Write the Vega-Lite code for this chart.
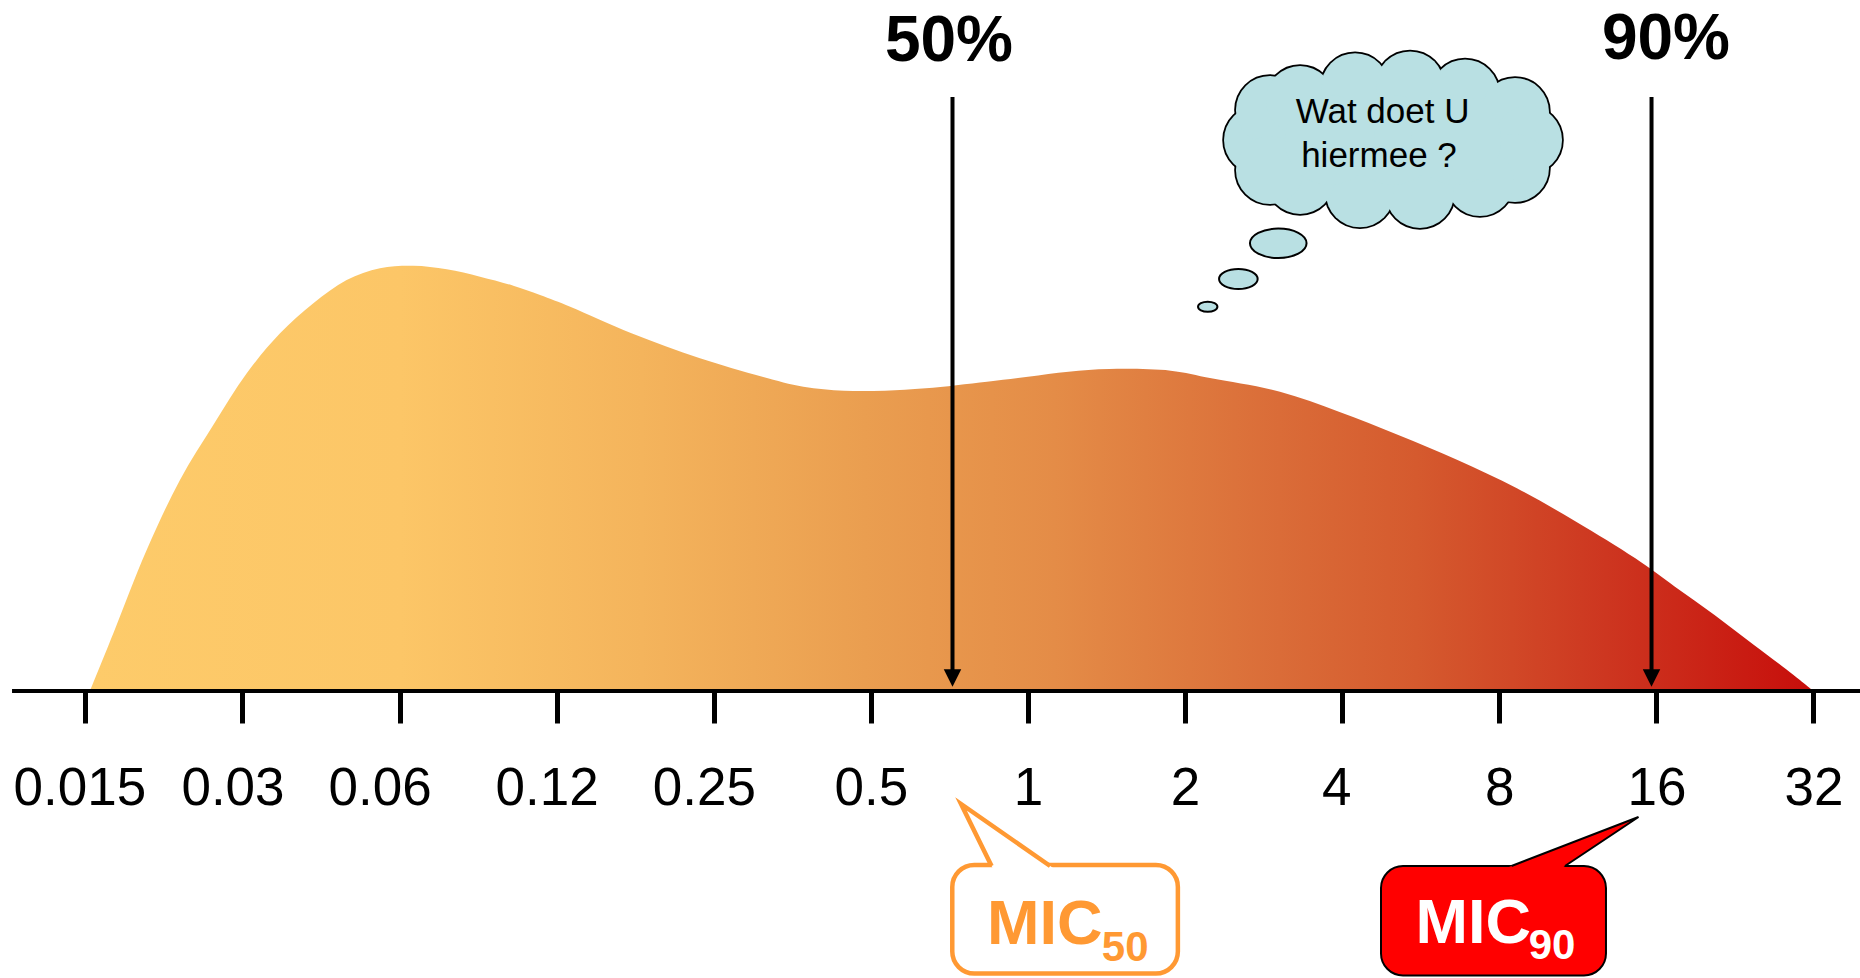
{
  "$schema": "https://vega.github.io/schema/vega-lite/v6.json",
  "width": 1860,
  "height": 691,
  "autosize": {"type": "none"},
  "padding": {"left": 0, "top": 0, "right": 0, "bottom": 287},
  "background": "white",
  "config": {"view": {"stroke": null}, "legend": {"disable": true}},
  "datasets": {
    "curve": [
      {"log2MIC": -5.971, "h": 0},
      {"log2MIC": -5.822, "h": 57.7},
      {"log2MIC": -5.610, "h": 141},
      {"log2MIC": -5.398, "h": 211},
      {"log2MIC": -5.186, "h": 266},
      {"log2MIC": -4.973, "h": 317.7},
      {"log2MIC": -4.761, "h": 357.7},
      {"log2MIC": -4.549, "h": 387.7},
      {"log2MIC": -4.337, "h": 411},
      {"log2MIC": -4.125, "h": 422.7},
      {"log2MIC": -3.913, "h": 425.3},
      {"log2MIC": -3.700, "h": 421.7},
      {"log2MIC": -3.488, "h": 414.3},
      {"log2MIC": -3.276, "h": 405.3},
      {"log2MIC": -3.106, "h": 396},
      {"log2MIC": -2.914, "h": 384.3},
      {"log2MIC": -2.524, "h": 357.7},
      {"log2MIC": -2.088, "h": 332.7},
      {"log2MIC": -1.691, "h": 314.3},
      {"log2MIC": -1.430, "h": 304.3},
      {"log2MIC": -1.171, "h": 300.3},
      {"log2MIC": -0.911, "h": 300.3},
      {"log2MIC": -0.651, "h": 302.7},
      {"log2MIC": -0.261, "h": 309.3},
      {"log2MIC": 0.0, "h": 314.3},
      {"log2MIC": 0.258, "h": 319.3},
      {"log2MIC": 0.518, "h": 322},
      {"log2MIC": 0.908, "h": 320.3},
      {"log2MIC": 1.167, "h": 312.7},
      {"log2MIC": 1.604, "h": 299.3},
      {"log2MIC": 1.979, "h": 279.3},
      {"log2MIC": 2.357, "h": 256},
      {"log2MIC": 2.734, "h": 231},
      {"log2MIC": 3.112, "h": 202.7},
      {"log2MIC": 3.489, "h": 169.3},
      {"log2MIC": 3.866, "h": 132.7},
      {"log2MIC": 4.118, "h": 104.3},
      {"log2MIC": 4.370, "h": 76},
      {"log2MIC": 4.621, "h": 46},
      {"log2MIC": 4.873, "h": 16},
      {"log2MIC": 4.999, "h": 0}
    ],
    "axisline": [{"log2MIC": -6.467, "log2MIC_end": 5.296, "h": 0}],
    "arrows": [
      {"label": "50%", "log2MIC": -0.4806, "h": 594, "h_end": 16, "h_tip": 13},
      {"label": "90%", "log2MIC": 3.969, "h": 594, "h_end": 16, "h_tip": 13}
    ],
    "percent_labels": [
      {"label": "50%", "log2MIC": -0.503, "h": 630},
      {"label": "90%", "log2MIC": 4.061, "h": 632}
    ],
    "bubbles": [
      {"bubble": "large", "log2MIC": 1.593, "h": 447.7},
      {"bubble": "medium", "log2MIC": 1.339, "h": 412},
      {"bubble": "small", "log2MIC": 1.144, "h": 384.3}
    ],
    "cloud_bumps": [
      {"log2MIC": 1.464, "h": 551},
      {"log2MIC": 1.540, "h": 581},
      {"log2MIC": 1.732, "h": 590.9},
      {"log2MIC": 2.082, "h": 603.8},
      {"log2MIC": 2.432, "h": 605.6},
      {"log2MIC": 2.782, "h": 597.5},
      {"log2MIC": 3.100, "h": 579},
      {"log2MIC": 3.183, "h": 551},
      {"log2MIC": 3.100, "h": 523},
      {"log2MIC": 2.877, "h": 509},
      {"log2MIC": 2.495, "h": 497.1},
      {"log2MIC": 2.113, "h": 497.7},
      {"log2MIC": 1.732, "h": 511.1},
      {"log2MIC": 1.540, "h": 521}
    ],
    "cloud_core": [
      {"log2MIC": 2.323, "h": 551},
      {"log2MIC": 1.922, "h": 551},
      {"log2MIC": 2.725, "h": 551}
    ],
    "cloud_text": [
      {"text": "Wat doet U", "log2MIC": 2.257, "h": 567.7},
      {"text": "hiermee ?", "log2MIC": 2.234, "h": 524.3}
    ],
    "boxes": [
      {"box": "MIC50", "log2MIC": -0.482, "log2MIC_end": 0.954, "h": -174, "h_end": -282.5},
      {"box": "MIC90", "log2MIC": 2.247, "log2MIC_end": 3.679, "h": -175, "h_end": -284.5}
    ],
    "pointer_fill": [
      {"box": "MIC50", "log2MIC": -0.426, "h": -113, "h_end": -113},
      {"box": "MIC50", "log2MIC": -0.219, "h": -135.6, "h_end": -179},
      {"box": "MIC50", "log2MIC": 0.178, "h": -179, "h_end": -179},
      {"box": "MIC90", "log2MIC": 3.012, "h": -179, "h_end": -179},
      {"box": "MIC90", "log2MIC": 3.380, "h": -156.7, "h_end": -179},
      {"box": "MIC90", "log2MIC": 3.886, "h": -126, "h_end": -126}
    ],
    "pointer_outline": [
      {"box": "MIC50", "seq": 1, "log2MIC": -0.232, "h": -175},
      {"box": "MIC50", "seq": 2, "log2MIC": -0.426, "h": -113},
      {"box": "MIC50", "seq": 3, "log2MIC": 0.141, "h": -175},
      {"box": "MIC90", "seq": 1, "log2MIC": 3.078, "h": -175},
      {"box": "MIC90", "seq": 2, "log2MIC": 3.886, "h": -126},
      {"box": "MIC90", "seq": 3, "log2MIC": 3.418, "h": -175}
    ],
    "mic_main": [
      {"box": "MIC50", "text": "MIC", "log2MIC": -0.261, "h": -253},
      {"box": "MIC90", "text": "MIC", "log2MIC": 2.467, "h": -251.7}
    ],
    "mic_sub": [
      {"box": "MIC50", "text": "50", "log2MIC": 0.470, "h": -269.7},
      {"box": "MIC90", "text": "90", "log2MIC": 3.187, "h": -268.3}
    ]
  },
  "encoding": {
    "x": {
      "field": "log2MIC",
      "type": "quantitative",
      "scale": {"domain": [-6.5436, 5.296], "nice": false, "zero": false},
      "axis": {
        "values": [-6, -5, -4, -3, -2, -1, 0, 1, 2, 3, 4, 5],
        "labelExpr": "datum.value == -6 ? '0.015' : datum.value == -5 ? '0.03' : datum.value == -4 ? '0.06' : datum.value == -3 ? '0.12' : datum.value == -2 ? '0.25' : datum.value == -1 ? '0.5' : '' + pow(2, datum.value)",
        "title": null,
        "grid": false,
        "domain": false,
        "ticks": true,
        "tickSize": 32,
        "tickWidth": 5,
        "tickColor": "#000000",
        "labelFont": "Liberation Sans",
        "labelFontSize": 53,
        "labelColor": "#000000",
        "labelPadding": 39,
        "labelOffset": {
          "condition": [
            {"test": "datum.value == -6", "value": -6},
            {"test": "datum.value == -5", "value": -10},
            {"test": "datum.value == -4", "value": -20},
            {"test": "datum.value == -3", "value": -10},
            {"test": "datum.value == -2", "value": -10},
            {"test": "datum.value == 2", "value": -6}
          ],
          "value": 0
        },
        "labelOverlap": false,
        "labelFlush": false,
        "labelBound": false,
        "zindex": 1
      }
    },
    "y": {
      "field": "h",
      "type": "quantitative",
      "scale": {"domain": [0, 691], "nice": false, "zero": false},
      "axis": null
    }
  },
  "layer": [
    {
      "data": {"name": "curve"},
      "mark": {
        "type": "area",
        "interpolate": "catmull-rom",
        "fill": {
          "gradient": "linear", "x1": 0, "y1": 0, "x2": 1, "y2": 0,
          "stops": [
            {"offset": 0, "color": "#FDCB6A"},
            {"offset": 0.18, "color": "#FCC667"},
            {"offset": 0.32, "color": "#F4B45C"},
            {"offset": 0.45, "color": "#EA9E50"},
            {"offset": 0.56, "color": "#E48C47"},
            {"offset": 0.69, "color": "#DA6C38"},
            {"offset": 0.77, "color": "#D55A2E"},
            {"offset": 0.88, "color": "#CD3620"},
            {"offset": 1, "color": "#C70E0B"}
          ]
        }
      }
    },
    {
      "data": {"name": "axisline"},
      "mark": {"type": "rule", "color": "#000000", "strokeWidth": 4},
      "encoding": {"x2": {"field": "log2MIC_end"}}
    },
    {
      "data": {"name": "arrows"},
      "mark": {"type": "rule", "color": "#000000", "strokeWidth": 4},
      "encoding": {"y2": {"field": "h_end"}}
    },
    {
      "data": {"name": "arrows"},
      "mark": {"type": "point", "shape": "M-1,-1L1,-1L0,1Z", "filled": true, "color": "#000000", "opacity": 1, "size": 306},
      "encoding": {"y": {"field": "h_tip", "type": "quantitative"}}
    },
    {
      "data": {"name": "percent_labels"},
      "mark": {"type": "text", "font": "Liberation Sans", "fontWeight": "bold", "fontSize": 64, "align": "center", "baseline": "alphabetic", "color": "#000000"},
      "encoding": {"text": {"field": "label"}}
    },
    {
      "data": {"name": "bubbles"},
      "mark": {"type": "point", "shape": "M-1,0C-1,-0.287,-0.552,-0.52,0,-0.52C0.552,-0.52,1,-0.287,1,0C1,0.287,0.552,0.52,0,0.52C-0.552,0.52,-1,0.287,-1,0Z", "filled": true, "fill": "#B9E0E3", "stroke": "#000000", "strokeWidth": 2, "opacity": 1},
      "encoding": {
        "size": {"field": "bubble", "type": "nominal", "scale": {"type": "ordinal", "domain": ["large", "medium", "small"], "range": [3204, 1490, 376]}, "legend": null}
      }
    },
    {
      "data": {"name": "cloud_bumps"},
      "mark": {"type": "point", "shape": "circle", "filled": true, "fill": "#B9E0E3", "stroke": "#000000", "strokeWidth": 3.5, "opacity": 1, "size": 4624}
    },
    {
      "data": {"name": "cloud_bumps"},
      "mark": {"type": "point", "shape": "circle", "filled": true, "fill": "#B9E0E3", "strokeWidth": 0, "opacity": 1, "size": 4624}
    },
    {
      "data": {"name": "cloud_core"},
      "mark": {"type": "point", "shape": "circle", "filled": true, "fill": "#B9E0E3", "strokeWidth": 0, "opacity": 1, "size": 8100}
    },
    {
      "data": {"name": "cloud_text"},
      "mark": {"type": "text", "font": "Liberation Sans", "fontSize": 35, "align": "center", "baseline": "alphabetic", "color": "#000000"},
      "encoding": {"text": {"field": "text"}}
    },
    {
      "data": {"name": "boxes"},
      "mark": {"type": "rect", "cornerRadius": 22},
      "encoding": {
        "x2": {"field": "log2MIC_end"},
        "y2": {"field": "h_end"},
        "fill": {"field": "box", "type": "nominal", "scale": {"domain": ["MIC50", "MIC90"], "range": ["#FFFFFF", "#FF0000"]}, "legend": null},
        "stroke": {"field": "box", "type": "nominal", "scale": {"domain": ["MIC50", "MIC90"], "range": ["#FF9933", "#000000"]}, "legend": null},
        "strokeWidth": {"field": "box", "type": "nominal", "scale": {"type": "ordinal", "domain": ["MIC50", "MIC90"], "range": [4.5, 2]}, "legend": null}
      }
    },
    {
      "data": {"name": "pointer_fill"},
      "mark": {"type": "area", "interpolate": "linear"},
      "encoding": {
        "y": {"field": "h", "type": "quantitative", "stack": null},
        "y2": {"field": "h_end"},
        "fill": {"field": "box", "type": "nominal", "scale": {"domain": ["MIC50", "MIC90"], "range": ["#FFFFFF", "#FF0000"]}, "legend": null},
        "detail": {"field": "box"}
      }
    },
    {
      "data": {"name": "pointer_outline"},
      "mark": {"type": "line", "interpolate": "linear", "strokeJoin": "miter", "strokeCap": "butt"},
      "encoding": {
        "order": {"field": "seq", "type": "quantitative"},
        "stroke": {"field": "box", "type": "nominal", "scale": {"domain": ["MIC50", "MIC90"], "range": ["#FF9933", "#000000"]}, "legend": null},
        "strokeWidth": {"field": "box", "type": "nominal", "scale": {"type": "ordinal", "domain": ["MIC50", "MIC90"], "range": [4.5, 2]}, "legend": null},
        "detail": {"field": "box"}
      }
    },
    {
      "data": {"name": "mic_main"},
      "mark": {"type": "text", "font": "Liberation Sans", "fontWeight": "bold", "fontSize": 63, "align": "left", "baseline": "alphabetic"},
      "encoding": {
        "text": {"field": "text"},
        "color": {"field": "box", "type": "nominal", "scale": {"domain": ["MIC50", "MIC90"], "range": ["#FF9933", "#FFFFFF"]}, "legend": null}
      }
    },
    {
      "data": {"name": "mic_sub"},
      "mark": {"type": "text", "font": "Liberation Sans", "fontWeight": "bold", "fontSize": 42, "align": "left", "baseline": "alphabetic"},
      "encoding": {
        "text": {"field": "text"},
        "color": {"field": "box", "type": "nominal", "scale": {"domain": ["MIC50", "MIC90"], "range": ["#FF9933", "#FFFFFF"]}, "legend": null}
      }
    }
  ]
}
